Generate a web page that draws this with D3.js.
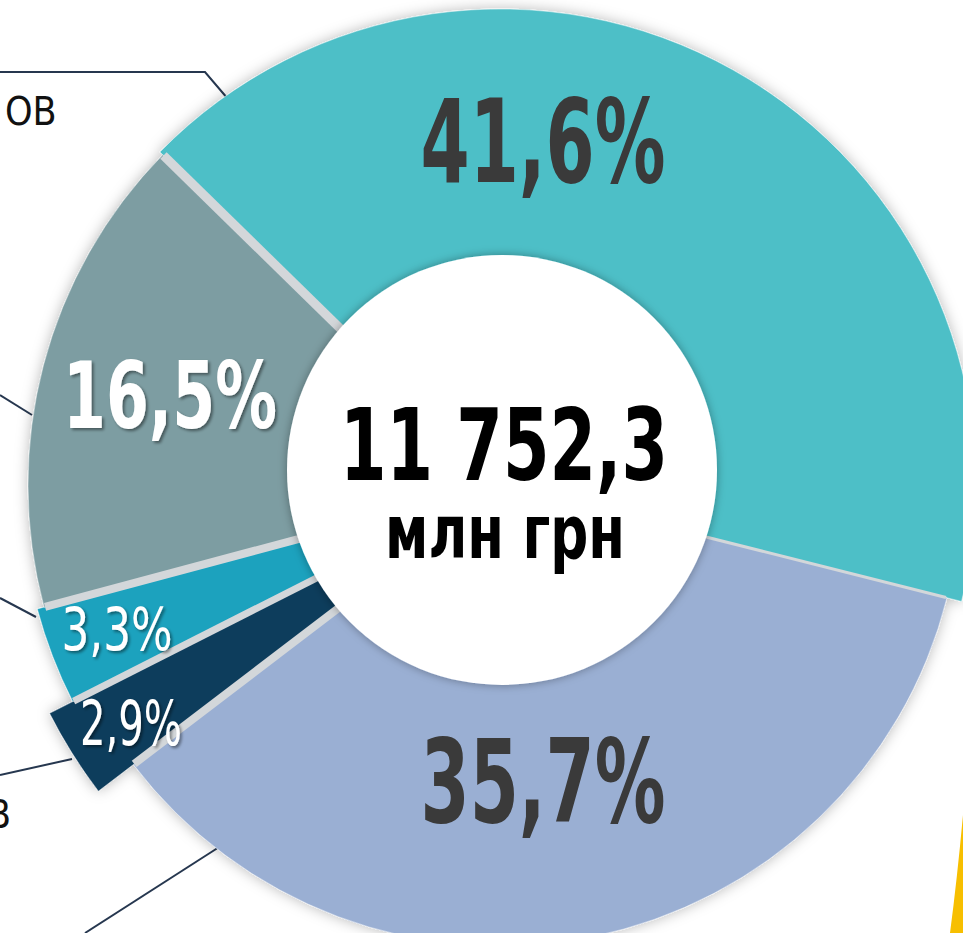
<!DOCTYPE html>
<html>
<head>
<meta charset="utf-8">
<script src="https://cdn.jsdelivr.net/npm/d3@7/dist/d3.min.js"></script>
<style>
  html, body { margin: 0; padding: 0; background: #fff; overflow: hidden; }
  svg { display: block; }
  .lbl { font-family: "Liberation Sans Narrow", "DejaVu Sans Condensed", "Roboto", sans-serif; }
</style>
</head>
<body>
<svg id="chart" width="963" height="933"></svg>
<script>
// ---- données (structure, %) ----
var categories = ['Сегмент 1', 'Сегмент 2', 'Сегмент 3', 'Сегмент 4', 'Сегмент 5'];
var shares = [41.6, 35.7, 2.9, 3.3, 16.5];
var total = 11752.3;
var totalUnit = 'млн грн';
// morceaux de libellés coupés par le cadre (le reste est hors image)
var sideTexts = ['ов', 'в'];

// ---- styles ----
var colors = ['#4ebfc7', '#9aafd3', '#0f3d5c', '#1aa2be', '#7d9da2'];
var outerR = [476, 461, 505, 479, 472];           // rayon de chaque part
var gapW = [3, 8, 7, 8, 9];                       // filet clair après chaque part
var labelFill = ['#3a3a3a', '#3a3a3a', '#ffffff', '#ffffff', '#ffffff'];
var labelWeight = ['bold', 'bold', 'normal', 'normal', 'bold'];
var labelSize = [116, 116, 62, 58, 92];
var labelWidth = [245, 245, 102, 111, 214];
var labelOffset = [[43, -303], [43, 337], [-369, 260], [-383, 165], [-330, -57]];

var cx = 500, cy = 485;          // centre du donut
var hole = {dx: 2, dy: -15, r: 215};

var ua = d3.formatLocale({decimal: ',', thousands: '\u00a0', grouping: [3], currency: ['', ' грн']});
var fmtPct = function(v) { return ua.format('.1f')(v) + '%'; };

var svg = d3.select('#chart');
var defs = svg.append('defs');

// ombres
var f1 = defs.append('filter').attr('id', 'ombre').attr('x', '-20%').attr('y', '-20%').attr('width', '140%').attr('height', '140%');
f1.append('feDropShadow').attr('dx', 0).attr('dy', 0).attr('stdDeviation', 7)
  .attr('flood-color', '#000').attr('flood-opacity', 0.28);
var f2 = defs.append('filter').attr('id', 'ombreTrou').attr('x', '-20%').attr('y', '-20%').attr('width', '140%').attr('height', '140%');
f2.append('feDropShadow').attr('dx', 0).attr('dy', 0).attr('stdDeviation', 5)
  .attr('flood-color', '#000').attr('flood-opacity', 0.35);
var f3 = defs.append('filter').attr('id', 'ombreTexte');
f3.append('feDropShadow').attr('dx', 2).attr('dy', 2).attr('stdDeviation', 1.5)
  .attr('flood-color', '#000').attr('flood-opacity', 0.45);

// ---- traits de rappel (vers les libellés hors cadre) ----
var leaders = [
  [[0, 72], [205, 72], [228, 99]],
  [[0, 395], [32, 415]],
  [[0, 598], [36, 617]],
  [[0, 775], [72, 759]],
  [[85, 933], [227, 842]]
];
var line = d3.line();
svg.append('g').selectAll('path')
  .data(leaders).enter().append('path')
  .attr('d', line)
  .attr('fill', 'none')
  .attr('stroke', '#26374f')
  .attr('stroke-width', 2);

svg.append('text').attr('class', 'lbl')
  .attr('x', 5).attr('y', 125)
  .attr('font-size', 39).attr('fill', '#111')
  .text(sideTexts[0].toUpperCase());
svg.append('text').attr('class', 'lbl')
  .attr('x', 11).attr('y', 828).attr('text-anchor', 'end')
  .attr('font-size', 39).attr('fill', '#111')
  .text(sideTexts[1].toUpperCase());

// ---- donut ----
var pie = d3.pie().sort(null)
  .startAngle(-45.6 * Math.PI / 180)
  .endAngle((360 - 45.6) * Math.PI / 180);
var arcs = pie(shares);

var g = svg.append('g').attr('transform', 'translate(' + cx + ',' + cy + ')');
var ring = g.append('g').attr('filter', 'url(#ombre)');

ring.selectAll('path.part')
  .data(arcs).enter().append('path')
  .attr('class', 'part')
  .attr('d', function(d, i) {
    return d3.arc().innerRadius(0).outerRadius(outerR[i])(d);
  })
  .attr('fill', function(d, i) { return colors[i]; })
  .attr('stroke', 'rgba(255,255,255,0.45)')
  .attr('stroke-width', 1);

// filets clairs entre les parts
ring.selectAll('line.gap')
  .data(arcs).enter().append('line')
  .attr('class', 'gap')
  .each(function(d, i) {
    var rMax = Math.min(outerR[i], outerR[(i + 1) % arcs.length]) - 1;
    var p0 = d3.pointRadial(d.endAngle, 150);
    var p1 = d3.pointRadial(d.endAngle, rMax);
    d3.select(this)
      .attr('x1', p0[0]).attr('y1', p0[1])
      .attr('x2', p1[0]).attr('y2', p1[1]);
  })
  .attr('stroke', '#d3d7da')
  .attr('stroke-width', function(d, i) { return gapW[i]; });

// trou central
g.append('circle')
  .attr('cx', hole.dx).attr('cy', hole.dy).attr('r', hole.r)
  .attr('fill', '#fff')
  .attr('filter', 'url(#ombreTrou)');

// pourcentages
g.selectAll('text.pct')
  .data(arcs).enter().append('text')
  .attr('class', 'lbl pct')
  .attr('x', function(d, i) { return labelOffset[i][0]; })
  .attr('y', function(d, i) { return labelOffset[i][1]; })
  .attr('text-anchor', 'middle')
  .attr('font-size', function(d, i) { return labelSize[i]; })
  .attr('font-weight', function(d, i) { return labelWeight[i]; })
  .attr('fill', function(d, i) { return labelFill[i]; })
  .attr('textLength', function(d, i) { return labelWidth[i]; })
  .attr('lengthAdjust', 'spacingAndGlyphs')
  .attr('filter', function(d, i) { return labelFill[i] === '#ffffff' ? 'url(#ombreTexte)' : null; })
  .text(function(d) { return fmtPct(d.data); });

// total au centre
g.append('text').attr('class', 'lbl')
  .attr('x', hole.dx + 2).attr('y', hole.dy + 10)
  .attr('text-anchor', 'middle')
  .attr('font-size', 100).attr('font-weight', 'bold').attr('fill', '#000')
  .attr('textLength', 328).attr('lengthAdjust', 'spacingAndGlyphs')
  .text(ua.format(',.1f')(total));
g.append('text').attr('class', 'lbl')
  .attr('x', hole.dx + 3).attr('y', hole.dy + 88)
  .attr('text-anchor', 'middle')
  .attr('font-size', 74).attr('font-weight', 'bold').attr('fill', '#000')
  .attr('textLength', 240).attr('lengthAdjust', 'spacingAndGlyphs')
  .text(totalUnit);

// bout jaune en bas à droite (élément voisin coupé)
svg.append('path')
  .attr('d', 'M963,815 L963,933 L950,933 Q957,880 963,815 Z')
  .attr('fill', '#f7bf00');
</script>
</body>
</html>
